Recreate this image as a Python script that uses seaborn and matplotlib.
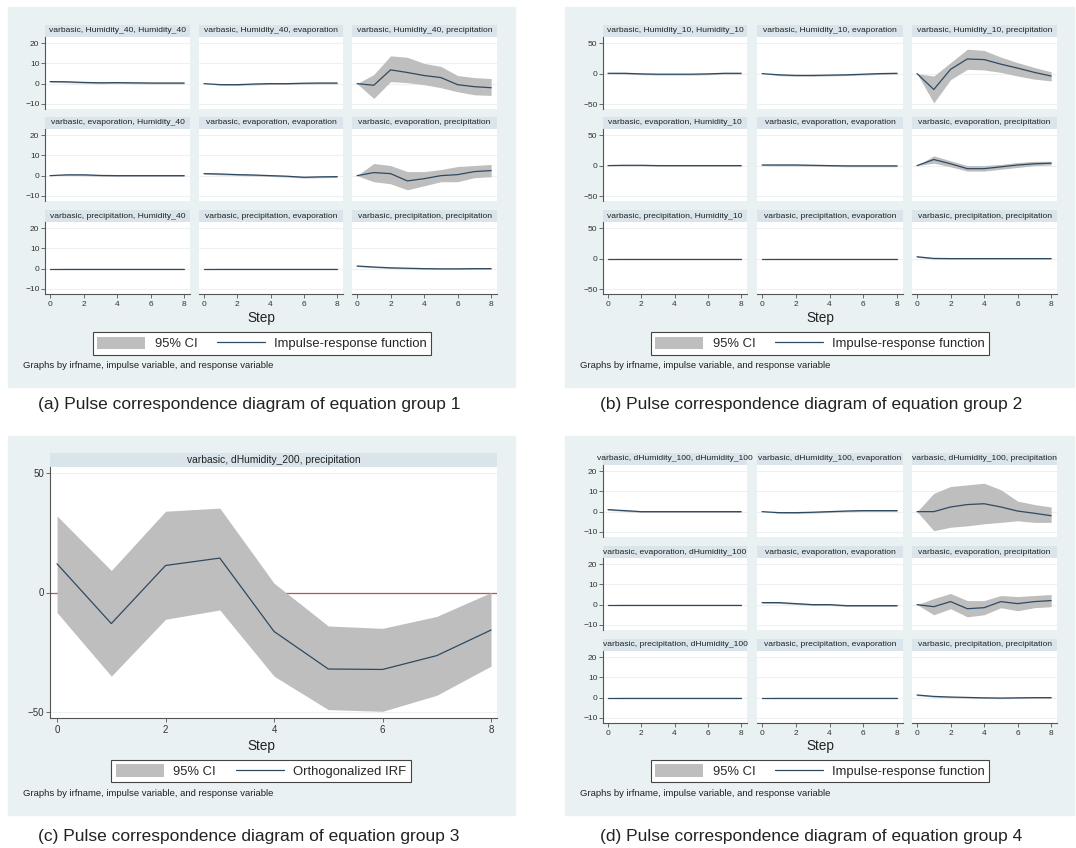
import numpy as np
import pandas as pd
import matplotlib
matplotlib.use("Agg")
import matplotlib.pyplot as plt
import seaborn as sns
from matplotlib.patches import Rectangle, Patch
from matplotlib.lines import Line2D

sns.set_theme(style="white")
plt.rcParams['font.family'] = ['Liberation Sans', 'DejaVu Sans']

steps = [0, 1, 2, 3, 4, 5, 6, 7, 8]

# ---- group 1 (a) ----
a_titles = ["varbasic, Humidity_40, Humidity_40", "varbasic, Humidity_40, evaporation", "varbasic, Humidity_40, precipitation",
            "varbasic, evaporation, Humidity_40", "varbasic, evaporation, evaporation", "varbasic, evaporation, precipitation",
            "varbasic, precipitation, Humidity_40", "varbasic, precipitation, evaporation", "varbasic, precipitation, precipitation"]
a_irf = [[1.0, 0.9, 0.6, 0.4, 0.5, 0.4, 0.3, 0.3, 0.3],
         [0.0, -0.5, -0.5, -0.2, 0.0, 0.0, 0.2, 0.3, 0.3],
         [0.0, -0.8, 6.8, 5.5, 4.0, 3.0, -0.5, -1.5, -2.0],
         [0.0, 0.4, 0.4, 0.1, 0.0, 0.0, 0.0, 0.0, 0.0],
         [1.0, 0.8, 0.5, 0.3, 0.0, -0.3, -0.8, -0.6, -0.5],
         [0.0, 1.5, 1.0, -2.6, -1.5, 0.0, 0.5, 2.0, 2.5],
         [0.0, 0.0, 0.0, 0.0, 0.0, 0.0, 0.0, 0.0, 0.0],
         [0.0, 0.0, 0.0, 0.0, 0.0, 0.0, 0.0, 0.0, 0.0],
         [1.3, 0.8, 0.4, 0.2, 0.0, -0.1, -0.1, 0.0, 0.0]]
a_lo = [[0.7, 0.5, 0.2, 0.0, 0.1, 0.0, -0.1, -0.1, -0.1],
        [0.0, -0.8, -0.9, -0.6, -0.4, -0.4, -0.2, -0.1, -0.1],
        [0.0, -7.3, 1.0, 0.5, -0.5, -2.0, -4.0, -5.5, -5.8],
        [0.0, 0.1, 0.0, -0.3, -0.4, -0.4, -0.4, -0.4, -0.4],
        [0.7, 0.4, 0.1, -0.1, -0.4, -0.7, -1.2, -1.0, -0.9],
        [0.0, -3.0, -4.0, -7.0, -5.0, -3.0, -3.0, -1.0, -0.5],
        [0.0, -0.2, -0.2, -0.2, -0.2, -0.2, -0.2, -0.2, -0.2],
        [0.0, -0.2, -0.2, -0.2, -0.2, -0.2, -0.2, -0.2, -0.2],
        [1.0, 0.5, 0.1, -0.1, -0.3, -0.4, -0.4, -0.3, -0.3]]
a_hi = [[1.3, 1.3, 1.0, 0.8, 0.9, 0.8, 0.7, 0.7, 0.7],
        [0.0, -0.2, -0.1, 0.2, 0.4, 0.4, 0.6, 0.7, 0.7],
        [0.0, 4.5, 13.7, 13.0, 10.0, 8.5, 4.0, 3.0, 2.5],
        [0.0, 0.7, 0.8, 0.5, 0.4, 0.4, 0.4, 0.4, 0.4],
        [1.3, 1.2, 0.9, 0.7, 0.4, 0.1, -0.4, -0.2, -0.1],
        [0.0, 6.0, 5.0, 2.0, 2.0, 3.0, 4.5, 5.0, 5.5],
        [0.0, 0.2, 0.2, 0.2, 0.2, 0.2, 0.2, 0.2, 0.2],
        [0.0, 0.2, 0.2, 0.2, 0.2, 0.2, 0.2, 0.2, 0.2],
        [1.6, 1.1, 0.7, 0.5, 0.3, 0.2, 0.2, 0.3, 0.3]]

# ---- group 2 (b) ----
b_titles = ["varbasic, Humidity_10, Humidity_10", "varbasic, Humidity_10, evaporation", "varbasic, Humidity_10, precipitation",
            "varbasic, evaporation, Humidity_10", "varbasic, evaporation, evaporation", "varbasic, evaporation, precipitation",
            "varbasic, precipitation, Humidity_10", "varbasic, precipitation, evaporation", "varbasic, precipitation, precipitation"]
b_irf = [[0.5, 0.5, -0.5, -1.0, -1.0, -1.0, -0.5, 0.5, 0.5],
         [0.0, -2.0, -3.0, -3.0, -2.5, -2.0, -1.0, 0.0, 0.5],
         [0.0, -26.0, 7.0, 24.0, 23.0, 15.5, 9.0, 2.0, -4.0],
         [0.0, 0.5, 0.5, 0.0, 0.0, 0.0, 0.0, 0.0, 0.0],
         [1.0, 1.0, 1.0, 0.5, 0.0, -0.5, -0.5, -0.5, -0.5],
         [0.0, 10.0, 3.0, -5.0, -5.0, -2.0, 1.0, 3.0, 4.0],
         [0.0, 0.0, 0.0, 0.0, 0.0, 0.0, 0.0, 0.0, 0.0],
         [0.0, 0.0, 0.0, 0.0, 0.0, 0.0, 0.0, 0.0, 0.0],
         [3.0, 0.3, 0.0, 0.0, 0.0, 0.0, 0.0, 0.0, 0.0]]
b_lo = [[-0.5, -0.8, -1.8, -2.3, -2.3, -2.3, -1.8, -0.8, -0.8],
        [0.0, -3.3, -4.3, -4.3, -3.8, -3.3, -2.3, -1.3, -0.8],
        [0.0, -48.0, -10.0, 7.0, 6.0, 2.0, -4.0, -9.0, -12.0],
        [0.0, -0.5, -0.5, -1.0, -1.0, -1.0, -1.0, -1.0, -1.0],
        [0.0, -0.3, -0.3, -0.8, -1.3, -1.8, -1.8, -1.8, -1.8],
        [0.0, 4.0, -2.0, -9.0, -9.0, -6.0, -3.0, 0.0, 1.0],
        [0.0, -0.5, -0.5, -0.5, -0.5, -0.5, -0.5, -0.5, -0.5],
        [0.0, -0.5, -0.5, -0.5, -0.5, -0.5, -0.5, -0.5, -0.5],
        [2.0, -0.7, -0.8, -0.8, -0.8, -0.8, -0.8, -0.8, -0.8]]
b_hi = [[1.5, 1.8, 0.8, 0.3, 0.3, 0.3, 0.8, 1.8, 1.8],
        [0.0, -0.7, -1.7, -1.7, -1.2, -0.7, 0.3, 1.3, 1.8],
        [0.0, -4.0, 18.0, 40.0, 38.0, 27.0, 18.0, 10.0, 3.0],
        [0.0, 1.5, 1.5, 1.0, 1.0, 1.0, 1.0, 1.0, 1.0],
        [2.0, 2.3, 2.3, 1.8, 1.3, 0.8, 0.8, 0.8, 0.8],
        [0.0, 16.0, 8.0, 0.0, 0.0, 2.0, 5.0, 7.0, 7.0],
        [0.0, 0.5, 0.5, 0.5, 0.5, 0.5, 0.5, 0.5, 0.5],
        [0.0, 0.5, 0.5, 0.5, 0.5, 0.5, 0.5, 0.5, 0.5],
        [4.0, 1.3, 0.8, 0.8, 0.8, 0.8, 0.8, 0.8, 0.8]]

# ---- group 3 (c) ----
c_title = "varbasic, dHumidity_200, precipitation"
c_irf = [12.0, -13.0, 11.3, 14.4, -16.3, -32.0, -32.2, -26.4, -15.7]
c_lo = [-8.4, -35.0, -11.2, -7.3, -35.0, -49.0, -49.7, -43.0, -30.8]
c_hi = [32.0, 9.2, 34.0, 35.3, 3.9, -14.0, -15.0, -10.0, 0.0]

# ---- group 4 (d) ----
d_titles = ["varbasic, dHumidity_100, dHumidity_100", "varbasic, dHumidity_100, evaporation", "varbasic, dHumidity_100, precipitation",
            "varbasic, evaporation, dHumidity_100", "varbasic, evaporation, evaporation", "varbasic, evaporation, precipitation",
            "varbasic, precipitation, dHumidity_100", "varbasic, precipitation, evaporation", "varbasic, precipitation, precipitation"]
d_irf = [[1.0, 0.5, 0.0, 0.0, 0.0, 0.0, 0.0, 0.0, 0.0],
         [0.0, -0.5, -0.5, -0.3, 0.0, 0.3, 0.5, 0.5, 0.5],
         [0.0, 0.0, 2.3, 3.5, 3.9, 2.3, 0.3, -0.8, -2.0],
         [0.0, 0.0, 0.0, 0.0, 0.0, 0.0, 0.0, 0.0, 0.0],
         [1.0, 1.0, 0.5, 0.0, 0.0, -0.5, -0.5, -0.5, -0.5],
         [0.0, -1.0, 1.5, -2.0, -1.5, 1.5, 0.5, 1.5, 2.0],
         [0.0, 0.0, 0.0, 0.0, 0.0, 0.0, 0.0, 0.0, 0.0],
         [0.0, 0.0, 0.0, 0.0, 0.0, 0.0, 0.0, 0.0, 0.0],
         [1.3, 0.6, 0.3, 0.1, -0.1, -0.2, -0.1, 0.0, 0.0]]
d_lo = [[0.7, 0.1, -0.4, -0.4, -0.4, -0.4, -0.4, -0.4, -0.4],
        [0.0, -0.8, -0.9, -0.7, -0.4, -0.1, 0.1, 0.1, 0.1],
        [0.0, -9.4, -7.7, -7.0, -6.0, -5.3, -4.5, -5.3, -5.3],
        [0.0, -0.2, -0.2, -0.2, -0.2, -0.2, -0.2, -0.2, -0.2],
        [0.7, 0.6, 0.1, -0.4, -0.4, -0.9, -0.9, -0.9, -0.9],
        [0.0, -5.0, -2.0, -6.0, -5.0, -1.5, -3.0, -1.5, -1.0],
        [0.0, -0.2, -0.2, -0.2, -0.2, -0.2, -0.2, -0.2, -0.2],
        [0.0, -0.2, -0.2, -0.2, -0.2, -0.2, -0.2, -0.2, -0.2],
        [1.0, 0.3, 0.0, -0.2, -0.4, -0.5, -0.4, -0.3, -0.3]]
d_hi = [[1.3, 0.9, 0.4, 0.4, 0.4, 0.4, 0.4, 0.4, 0.4],
        [0.0, -0.2, -0.1, 0.1, 0.4, 0.7, 0.9, 0.9, 0.9],
        [0.0, 9.0, 12.4, 13.2, 14.0, 10.8, 5.2, 3.5, 2.3],
        [0.0, 0.2, 0.2, 0.2, 0.2, 0.2, 0.2, 0.2, 0.2],
        [1.3, 1.4, 0.9, 0.4, 0.4, -0.1, -0.1, -0.1, -0.1],
        [0.0, 3.0, 5.5, 2.0, 2.0, 4.5, 4.0, 4.5, 5.0],
        [0.0, 0.2, 0.2, 0.2, 0.2, 0.2, 0.2, 0.2, 0.2],
        [0.0, 0.2, 0.2, 0.2, 0.2, 0.2, 0.2, 0.2, 0.2],
        [1.6, 0.9, 0.6, 0.4, 0.2, 0.1, 0.2, 0.3, 0.3]]

captions = ["(a) Pulse correspondence diagram of equation group 1",
            "(b) Pulse correspondence diagram of equation group 2",
            "(c) Pulse correspondence diagram of equation group 3",
            "(d) Pulse correspondence diagram of equation group 4"]
note = "Graphs by irfname, impulse variable, and response variable"

# colours (Stata s2color look)
BG = "#EAF1F3"
STRIP = "#D9E5EA"
CI = "#BEBEBE"
LINE = "#2E4A62"
GRID = "#EEF1F3"
AXIS = "#555555"
RED = "#B4555A"

W, H = 1076, 848
fig = plt.figure(figsize=(W / 100, H / 100), dpi=100)
fig.patch.set_facecolor("white")


def frect(x0, y0, x1, y1):
    return [x0 / W, 1 - y1 / H, (x1 - x0) / W, (y1 - y0) / H]


def fx(x):
    return x / W


def fy(y):
    return 1 - y / H


def panel_bg(x0, y0, x1, y1):
    fig.patches.append(Rectangle((x0 / W, 1 - y1 / H), (x1 - x0) / W, (y1 - y0) / H,
                                 transform=fig.transFigure, color=BG, zorder=-5))


def strip(x0, y0, x1, y1, text, fs=6.1):
    sa = fig.add_axes(frect(x0, y0, x1, y1))
    sa.set_facecolor(STRIP)
    sa.set_xticks([])
    sa.set_yticks([])
    for s in sa.spines.values():
        s.set_visible(False)
    sa.text(0.5, 0.5, text, ha="center", va="center", fontsize=fs, color="#222222",
            transform=sa.transAxes)


def irf_axes(rect, irf, lo, hi, ylim, yticks, left, bottom, xlim=(-0.3, 8.35), fs=6.0, zero_line=False):
    ax = fig.add_axes(rect)
    ax.set_facecolor("white")
    df = pd.DataFrame({"step": steps, "irf": irf, "lo": lo, "hi": hi})
    if zero_line:
        ax.axhline(0, color=RED, lw=0.9, zorder=1)
    ax.fill_between(df["step"], df["lo"], df["hi"], color=CI, lw=0, zorder=2)
    sns.lineplot(data=df, x="step", y="irf", ax=ax, color=LINE, lw=0.9, zorder=3)
    ax.set_xlim(*xlim)
    ax.set_ylim(*ylim)
    ax.set_yticks(yticks)
    ax.set_xticks([0, 2, 4, 6, 8])
    ax.set_xlabel("")
    ax.set_ylabel("")
    for t in yticks:
        ax.axhline(t, color=GRID, lw=0.8, zorder=0)
    for s in ["top", "right"]:
        ax.spines[s].set_visible(False)
    ax.spines["left"].set_visible(left)
    ax.spines["bottom"].set_visible(bottom)
    ax.spines["left"].set_color(AXIS)
    ax.spines["bottom"].set_color(AXIS)
    ax.spines["left"].set_linewidth(0.8)
    ax.spines["bottom"].set_linewidth(0.8)
    ax.tick_params(axis="y", left=left, labelleft=left, length=3, width=0.6, color=AXIS,
                   labelsize=fs, pad=1, labelcolor="#333333")
    ax.tick_params(axis="x", bottom=bottom, labelbottom=bottom, length=3, width=0.6, color=AXIS,
                   labelsize=fs, pad=2, labelcolor="#333333")
    return ax


def legend(cx, cy, label):
    handles = [Patch(facecolor=CI, edgecolor="none", label="95% CI"),
               Line2D([], [], color=LINE, lw=0.9, label=label)]
    lg = fig.legend(handles=handles, loc="center", bbox_to_anchor=(fx(cx), fy(cy)), ncol=2,
                    frameon=True, fancybox=False, edgecolor="#444444", facecolor="white", framealpha=1,
                    fontsize=9.4, handlelength=3.7, handleheight=1.1, handletextpad=0.7,
                    columnspacing=1.5, borderpad=0.35, borderaxespad=0)
    lg.get_frame().set_linewidth(0.8)


def grid_panel(cols, row_tops, titles, irf, lo, hi, ylim, yticks):
    for r in range(3):
        for c in range(3):
            k = r * 3 + c
            x0, x1 = cols[c]
            top = row_tops[r]
            strip(x0, top, x1, top + 12, titles[k])
            irf_axes(frect(x0, top + 12, x1, top + 84), irf[k], lo[k], hi[k], ylim, yticks,
                     left=(c == 0), bottom=(r == 2))


# panel (a)
panel_bg(8, 7, 515, 387)
grid_panel([(45, 190), (199, 343), (352, 497)], [25, 117, 210], a_titles, a_irf, a_lo, a_hi,
           (-12.5, 23), [-10, 0, 10, 20])
fig.text(fx(261), fy(318), "Step", ha="center", va="center", fontsize=9.8, color="#222222")
legend(262, 343.5, "Impulse-response function")
fig.text(fx(23), fy(366), note, ha="left", va="center", fontsize=6.8, color="#222222")
fig.text(fx(249), fy(405), captions[0], ha="center", va="center", fontsize=12.5, color="#222222")

# panel (b)
panel_bg(565, 7, 1074, 387)
grid_panel([(603, 747), (757, 903), (912, 1057)], [25, 117, 210], b_titles, b_irf, b_lo, b_hi,
           (-58, 60), [-50, 0, 50])
fig.text(fx(820), fy(318), "Step", ha="center", va="center", fontsize=9.8, color="#222222")
legend(820, 343.5, "Impulse-response function")
fig.text(fx(580), fy(366), note, ha="left", va="center", fontsize=6.8, color="#222222")
fig.text(fx(811), fy(405), captions[1], ha="center", va="center", fontsize=12.5, color="#222222")

# panel (c)
panel_bg(8, 436, 515, 815)
strip(50, 453, 497, 467, c_title, fs=7.4)
irf_axes(frect(50, 467, 497, 718), c_irf, c_lo, c_hi, (-52.5, 52.5), [-50, 0, 50],
         left=True, bottom=True, xlim=(-0.13, 8.11), fs=7.0, zero_line=True)
fig.text(fx(261), fy(746), "Step", ha="center", va="center", fontsize=9.8, color="#222222")
legend(261, 771, "Orthogonalized IRF")
fig.text(fx(23), fy(794), note, ha="left", va="center", fontsize=6.8, color="#222222")
fig.text(fx(249), fy(836), captions[2], ha="center", va="center", fontsize=12.5, color="#222222")

# panel (d)
panel_bg(565, 436, 1074, 815)
grid_panel([(603, 747), (757, 903), (912, 1057)], [453, 546, 639], d_titles, d_irf, d_lo, d_hi,
           (-12.5, 23), [-10, 0, 10, 20])
fig.text(fx(820), fy(746), "Step", ha="center", va="center", fontsize=9.8, color="#222222")
legend(820, 771, "Impulse-response function")
fig.text(fx(580), fy(794), note, ha="left", va="center", fontsize=6.8, color="#222222")
fig.text(fx(811), fy(836), captions[3], ha="center", va="center", fontsize=12.5, color="#222222")

plt.savefig("out.png", dpi=100)
